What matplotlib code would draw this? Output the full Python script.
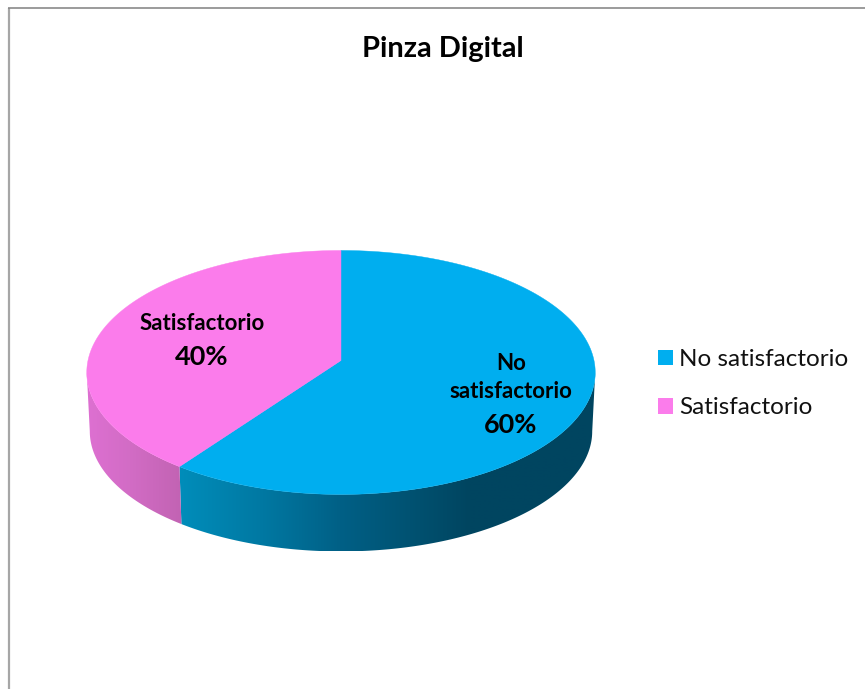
import numpy as np
import matplotlib
matplotlib.use("Agg")
import matplotlib.pyplot as plt
from matplotlib.patches import Polygon, Patch

# --- data ---
categories = ["No satisfactorio", "Satisfactorio"]
values = [60, 40]
colors = ["#00AEEF", "#FB7CEB"]
side_stops = [
    ([180, 260, 340, 420, 470, 600], ["#008DBA", "#0079A3", "#006086", "#00506F", "#004560", "#004560"]),
    ([85, 130, 182], ["#DE70D2", "#D26CC5", "#C263B3"]),
]
title = "Pinza Digital"

plt.rcParams["font.family"] = ["Lato", "DejaVu Sans"]
PX = 72 / 100  # pt per pixel at dpi 100

fig = plt.figure(figsize=(8.65, 6.89), dpi=100, facecolor="white")
ax = fig.add_axes([0, 0, 1, 1])
ax.set_xlim(0, 865)
ax.set_ylim(689, 0)
ax.axis("off")

# perspective disc layout
CX, CY = 341, 360.5
K = 0.098
W_TOP, H_TOP = 253, 120.8
W_BOT, H_BOT, DROP = 250, 119, 59
# the side wall is visible between the widest points of the rim
VIS_START, VIS_END = np.arccos(-K), 2 * np.pi - np.arccos(-K)


def rim(theta, w, h, dy=0.0):
    u, v = np.sin(theta), -np.cos(theta)
    d = 1 - K * v
    return CX + w * u / d, CY + dy + h * v / d


def hex_rgb(c):
    return np.array(matplotlib.colors.to_rgb(c))


fractions = np.cumsum([0] + values) / sum(values)

# sides first, with a horizontal gradient clipped to the strip under each rim
for i in range(len(values)):
    a0 = max(fractions[i] * 2 * np.pi, VIS_START)
    a1 = min(fractions[i + 1] * 2 * np.pi, VIS_END)
    th = np.linspace(a0, a1, 240)
    x0, y0 = rim(th, W_TOP, H_TOP)
    x1, y1 = rim(th, W_BOT, H_BOT, DROP)
    pts = np.column_stack([np.r_[x0, x1[::-1]], np.r_[y0, y1[::-1]]])
    strip = Polygon(pts, closed=True, facecolor="none", edgecolor="none")
    ax.add_patch(strip)
    xs, cs = side_stops[i]
    grid = np.arange(int(pts[:, 0].min()) - 1, int(pts[:, 0].max()) + 2)
    rgb = np.array([hex_rgb(c) for c in cs])
    img = np.stack([np.interp(grid, xs, rgb[:, j]) for j in range(3)], axis=-1)[None, :, :]
    im = ax.imshow(img, extent=(grid[0], grid[-1], pts[:, 1].max(), pts[:, 1].min()),
                   aspect="auto", interpolation="bilinear", zorder=2)
    im.set_clip_path(strip)

ax.set_xlim(0, 865)
ax.set_ylim(689, 0)

# top faces
for i in range(len(values)):
    th = np.linspace(fractions[i], fractions[i + 1], 400) * 2 * np.pi
    x, y = rim(th, W_TOP, H_TOP)
    ax.add_patch(Polygon(np.column_stack([np.r_[CX, x], np.r_[CY, y]]), closed=True,
                         facecolor=colors[i], edgecolor=colors[i], linewidth=0.3, zorder=3))

# frame lines
ax.plot([9, 9], [8, 689], color="#A6A6A6", lw=2.2 * PX, solid_capstyle="butt", zorder=1)
ax.plot([8, 865], [7.5, 7.5], color="#858585", lw=1.6 * PX, solid_capstyle="butt", zorder=1)

# texts
ax.text(443, 49.5, title, fontsize=29 * PX, fontweight="bold", ha="center", va="center", color="black", zorder=5)
ax.text(202, 323.5, "Satisfactorio", fontsize=22.3 * PX, fontweight="bold", ha="center", va="center", zorder=5)
ax.text(202, 357, f"{values[1]}%", fontsize=27 * PX, fontweight="bold", ha="center", va="center", zorder=5)
ax.text(511, 363.5, "No", fontsize=22.3 * PX, fontweight="bold", ha="center", va="center", zorder=5)
ax.text(511, 392, "satisfactorio", fontsize=22.3 * PX, fontweight="bold", ha="center", va="center", zorder=5)
ax.text(511, 425, f"{values[0]}%", fontsize=27 * PX, fontweight="bold", ha="center", va="center", zorder=5)

# legend
fs = 24.3 * PX
handles = [Patch(facecolor=c, edgecolor="none", label=l) for c, l in zip(colors, categories)]
ax.legend(handles=handles, loc="upper left", bbox_to_anchor=(658 / 865, 1 - 349 / 689),
          bbox_transform=ax.transAxes, frameon=False, fontsize=fs, labelcolor="#111111",
          handlelength=0.62, handleheight=0.62, handletextpad=0.26, labelspacing=1.13,
          borderpad=0, borderaxespad=0)

fig.savefig("out.png", dpi=100)
